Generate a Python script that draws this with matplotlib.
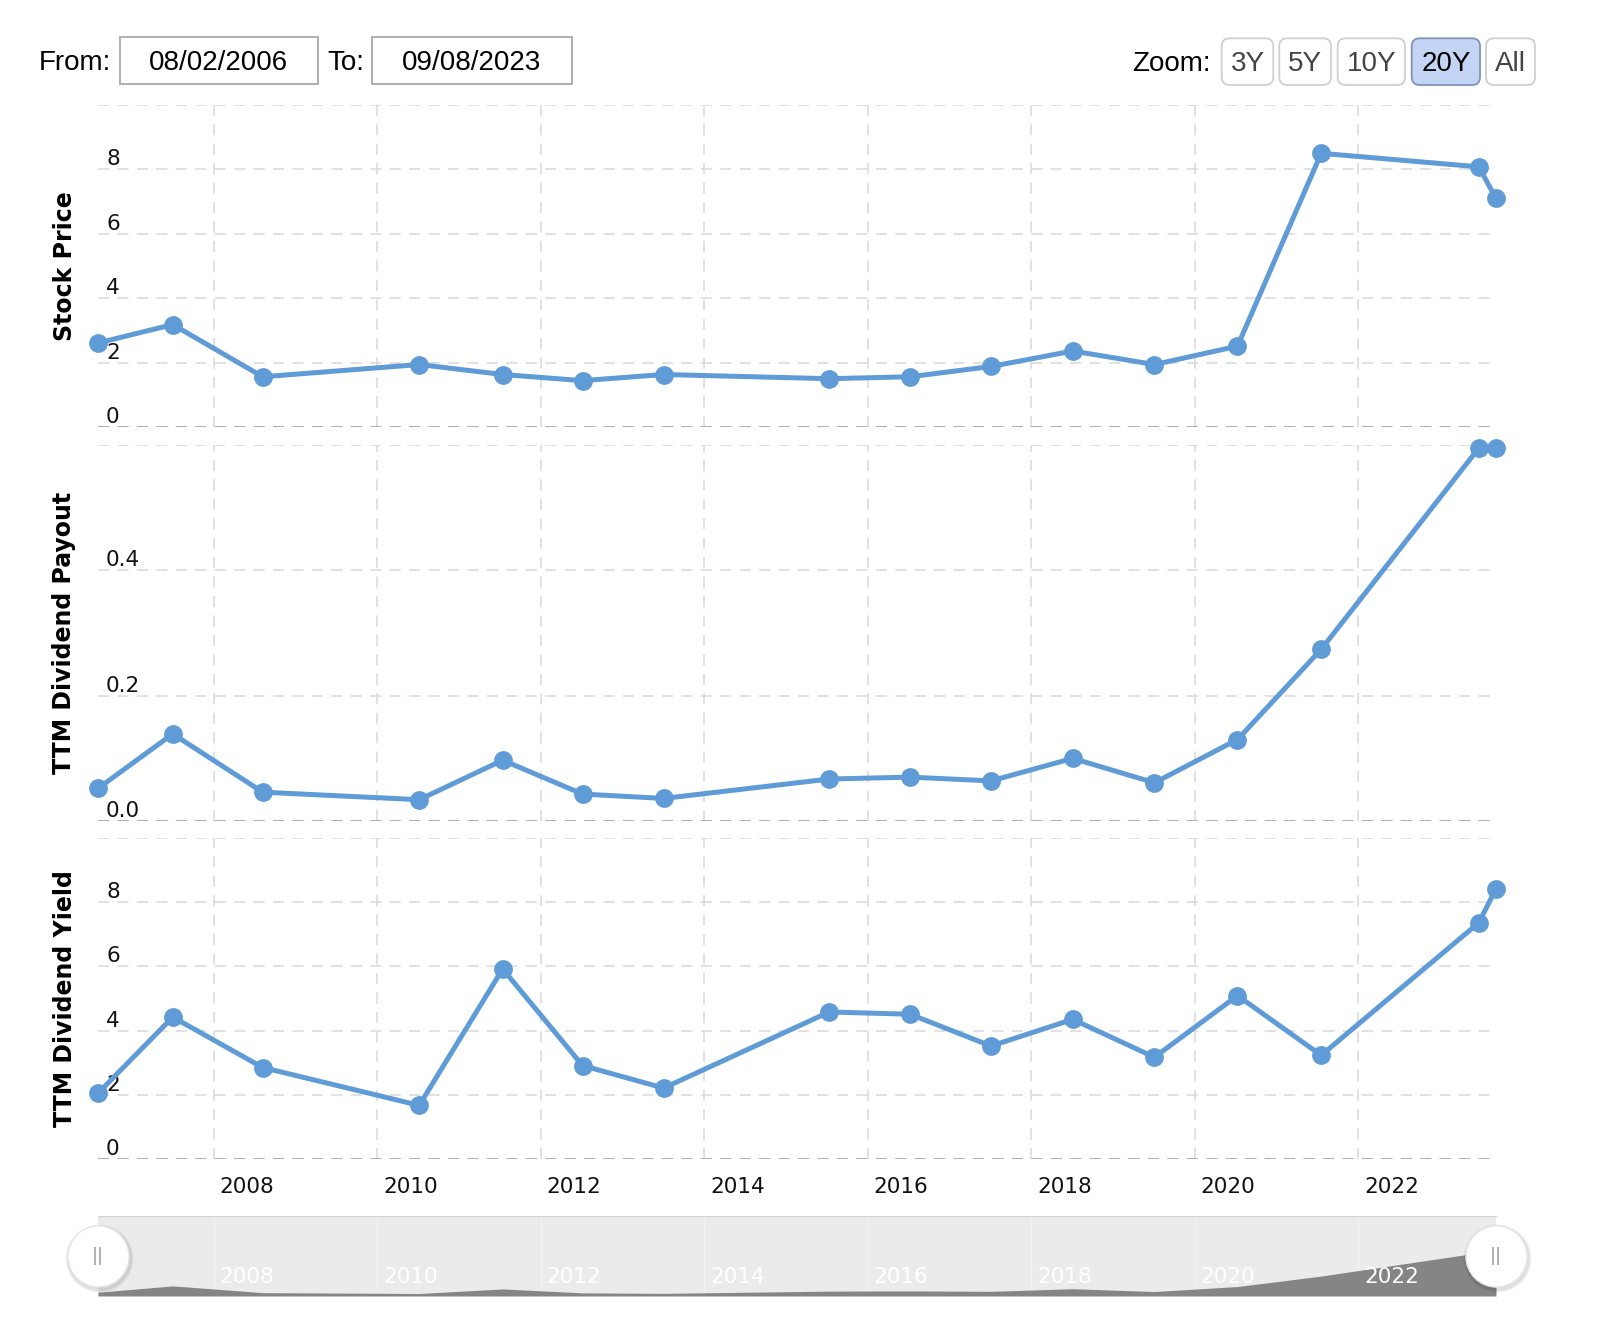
import matplotlib
matplotlib.use("Agg")
import matplotlib.pyplot as plt
import matplotlib.transforms as mtransforms
from matplotlib.patches import FancyBboxPatch, Rectangle
import pandas as pd

# ---- data ----
dates = pd.to_datetime([
    "2006-08-02", "2007-07-02", "2008-08-07", "2010-07-07", "2011-07-15",
    "2012-07-06", "2013-07-03", "2015-07-13", "2016-07-08", "2017-07-05",
    "2018-07-05", "2019-07-05", "2020-07-10", "2021-07-19", "2023-06-23",
    "2023-09-08",
])
stock_price = [2.61, 3.18, 1.56, 1.94, 1.63, 1.44, 1.63, 1.50, 1.56, 1.88,
               2.36, 1.94, 2.51, 8.50, 8.08, 7.10]
div_payout = [0.052, 0.139, 0.046, 0.034, 0.097, 0.043, 0.036, 0.067, 0.070,
              0.064, 0.100, 0.061, 0.130, 0.274, 0.595, 0.595]
div_yield = [2.05, 4.42, 2.85, 1.67, 5.92, 2.91, 2.21, 4.58, 4.51, 3.52,
             4.35, 3.17, 5.09, 3.23, 7.36, 8.42]

year_ticks = [2008, 2010, 2012, 2014, 2016, 2018, 2020, 2022]
zoom_buttons = ["3Y", "5Y", "10Y", "20Y", "All"]
from_date, to_date = "08/02/2006", "09/08/2023"

BLUE = "#5f9bd6"
GRID = "#d9d9d9"
AXLINE = "#aaaaaa"
DASH = (0, (8, 6))

plt.rcParams["lines.scale_dashes"] = False
plt.rcParams["font.family"] = ["DejaVu Sans"]

W, H = 1603, 1340
fig = plt.figure(figsize=(W / 100, H / 100), dpi=100)
ui_font = "Liberation Sans"


def add_axes_px(x0, y0, x1, y1):
    return fig.add_axes([x0 / W, 1 - y1 / H, (x1 - x0) / W, (y1 - y0) / H])


def inch(x, y):
    return x / 100, (H - y) / 100


def offset(dx, dy):
    return mtransforms.ScaledTranslation(dx / 100, dy / 100, fig.dpi_scale_trans)


xticks = pd.to_datetime([f"{y}-01-01" for y in year_ticks])

panels = [
    dict(box=(98, 105, 1496, 427), values=stock_price, ylim=(0, 10),
         yticks=[0, 2, 4, 6, 8, 10], labels=["0", "2", "4", "6", "8"],
         title="Stock Price"),
    dict(box=(98, 445, 1496, 821), values=div_payout, ylim=(0, 0.6),
         yticks=[0, 0.2, 0.4, 0.6], labels=["0.0", "0.2", "0.4"],
         title="TTM Dividend Payout"),
    dict(box=(98, 838, 1496, 1159), values=div_yield, ylim=(0, 10),
         yticks=[0, 2, 4, 6, 8, 10], labels=["0", "2", "4", "6", "8"],
         title="TTM Dividend Yield"),
]

axes = []
for p in panels:
    x0, y0, x1, y1 = p["box"]
    ax = add_axes_px(x0, y0, x1, y1)
    ax.plot(dates, p["values"], color=BLUE, lw=3.6, marker="o", ms=12.5,
            clip_on=False, zorder=4, solid_joinstyle="round")
    ax.set_xlim(dates[0], dates[-1])
    ax.set_ylim(*p["ylim"])
    ax.set_xticks(xticks)
    ax.set_yticks(p["yticks"])
    ax.grid(True, color=GRID, lw=1.1, linestyle=DASH)
    ax.tick_params(length=0, labelleft=False, labelbottom=False)
    for s in ax.spines.values():
        s.set_visible(False)
    ax.axhline(p["ylim"][0], color=AXLINE, lw=1.3, linestyle=DASH, zorder=2)
    ytrans = mtransforms.blended_transform_factory(ax.transAxes, ax.transData)
    for v, lab in zip(p["yticks"], p["labels"]):
        ax.text(0, v, lab, transform=ytrans + offset(8, 0), ha="left",
                va="bottom", fontsize=15.5, color="#111111", zorder=3)
    fig.text(64.5 / W, 1 - (y0 + y1) / 2 / H, p["title"], rotation=90,
             ha="center", va="center", fontsize=17, fontweight="bold")
    axes.append(ax)

# x tick labels under the last panel
ax3 = axes[-1]
xtrans = mtransforms.blended_transform_factory(ax3.transData, ax3.transAxes)
for t, y in zip(xticks, year_ticks):
    ax3.text(t, 0, str(y), transform=xtrans + offset(6, -28), ha="left",
             va="center", fontsize=15.5, color="#111111")

# ---- navigator ----
nav = add_axes_px(98, 1216, 1496, 1296)
nav.set_facecolor("#ebebeb")
nav.fill_between(dates, div_payout, 0, color="#858585", lw=0, zorder=2)
nav.set_xlim(dates[0], dates[-1])
nav.set_ylim(0, 1.1)
nav.set_xticks(xticks)
nav.set_yticks([])
nav.grid(axis="x", color="#ffffff", lw=1, alpha=0.35, zorder=3)
nav.tick_params(length=0, labelbottom=False)
for s in nav.spines.values():
    s.set_visible(False)
nav.spines["top"].set_visible(True)
nav.spines["top"].set_color("#d4d4d4")
ntrans = mtransforms.blended_transform_factory(nav.transData, nav.transAxes)
for t, y in zip(xticks, year_ticks):
    nav.text(t, 0, str(y), transform=ntrans + offset(6, 19), ha="left",
             va="center", fontsize=15.5, color="white", zorder=4)
for hx in (0, 1):
    for k, a in ((5, 0.05), (3, 0.08)):
        nav.plot([hx], [0.5], marker="o", ms=44 + k, color="#000000", alpha=a,
                 markeredgewidth=0, transform=nav.transAxes + offset(1, -2),
                 clip_on=False, zorder=5)
    nav.plot([hx], [0.5], marker="o", ms=44, markerfacecolor="white",
             markeredgecolor="#e6e6e6", transform=nav.transAxes,
             clip_on=False, zorder=6)
    nav.text(hx, 0.5, "||", transform=nav.transAxes, ha="center",
             va="center", fontsize=13, color="#999999", zorder=7)

# ---- range inputs and zoom buttons ----
fig.text(38.8 / W, 1 - 62.5 / H, "From:", ha="left", va="center",
         fontsize=20, family=ui_font)
fig.text(327 / W, 1 - 62.5 / H, "To:", ha="left", va="center",
         fontsize=20, family=ui_font)
for (bx0, bx1), txt in zip([(119.6, 318), (372, 571.5)], [from_date, to_date]):
    fig.patches.append(Rectangle(inch(bx0, 83.8), (bx1 - bx0) / 100, 47 / 100,
                                 transform=fig.dpi_scale_trans,
                                 facecolor="white", edgecolor="#a9a9a9", lw=1.3))
    fig.text((bx0 + bx1) / 2 / W, 1 - 62.5 / H, txt, ha="center", va="center",
             fontsize=20, family=ui_font)

fig.text(1131.7 / W, 1 - 64 / H, "Zoom:", ha="left", va="center",
         fontsize=20, family=ui_font)
btn_x = [(1221.7, 1273.3), (1279.3, 1331), (1337.7, 1405), (1411.7, 1480),
         (1486, 1535)]
for (bx0, bx1), txt in zip(btn_x, zoom_buttons):
    selected = txt == "20Y"
    fig.patches.append(FancyBboxPatch(
        inch(bx0, 85), (bx1 - bx0) / 100, 46.7 / 100,
        boxstyle="round,pad=0,rounding_size=0.08",
        transform=fig.dpi_scale_trans,
        facecolor="#c3d4f5" if selected else "white",
        edgecolor="#7f93b8" if selected else "#cfcfcf", lw=1.3))
    fig.text((bx0 + bx1) / 2 / W, 1 - 64 / H, txt, ha="center", va="center",
             fontsize=20, family=ui_font,
             color="#000000" if selected else "#444444")

fig.savefig("out.png", dpi=100, facecolor="white")
plt.close(fig)
